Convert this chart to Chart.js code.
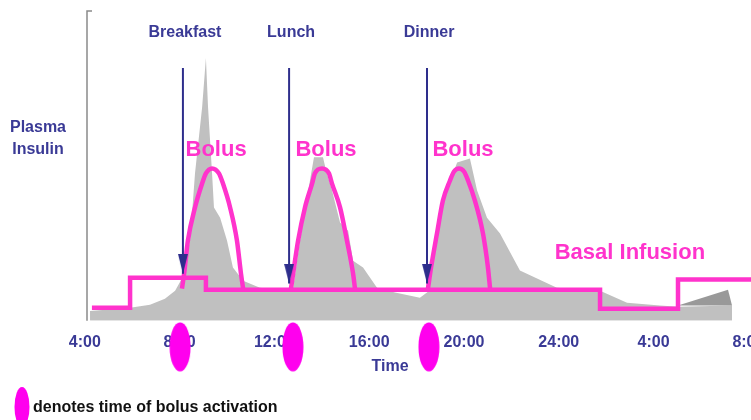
<!DOCTYPE html>
<html>
<head>
<meta charset="utf-8">
<script src="https://cdn.jsdelivr.net/npm/chart.js@4.4.1/dist/chart.umd.min.js"></script>
<style>
  html, body { margin: 0; padding: 0; background: #fff; }
  #wrap { width: 751px; height: 420px; position: relative; }
</style>
</head>
<body>
<div id="wrap"><canvas id="insulinChart"></canvas></div>
<script>
// Time axis: hours from 4:00 (day 1) to 8:00 (day 2)
const tickHours = [4, 8, 12, 16, 20, 24, 28, 32];
const tickLabels = ['4:00', '8:00', '12:00', '16:00', '20:00', '24:00', '4:00', '8:00'];

// Plasma insulin (grey area)
const insulinTimes = [4.22, 5.91, 6.75, 7.38, 7.81, 8.14, 8.44, 8.65, 8.95, 9.11, 9.20, 9.37, 9.45, 9.71, 10.0,
  10.25, 10.68, 11.39, 12.45, 12.79, 13.08, 13.50, 13.67, 14.05, 14.18, 14.43, 14.77, 15.11, 15.32, 15.74,
  16.33, 17.09, 18.14, 18.48, 18.69, 19.11, 19.71, 20.25, 20.55, 20.97, 21.52, 22.36, 23.92, 25.74, 26.88,
  28.27, 29.03, 31.31, 31.31];
const insulinLevels = [3.2, 4.2, 5.2, 7.1, 9.7, 14.2, 25.9, 47.6, 68.9, 84.8, 68.9, 47.6, 36.6, 33.3, 25.9,
  17.2, 12.9, 10.7, 9.7, 10.7, 25.9, 45.3, 52.8, 52.8, 48.5, 42.1, 31.7, 29.1, 19.4, 17.2,
  10.7, 9.1, 7.4, 9.4, 22.7, 38.8, 51.1, 52.4, 42.1, 33.3, 28.2, 16.2, 10.7, 9.7, 5.8,
  4.9, 4.5, 4.9, 0];

// darker wedge at the end of the night
const lateTimes = [29.03, 31.14, 31.31];
const lateLevels = [4.9, 10.0, 4.9];

// Basal infusion (steps)
const basalTimes = [4.30, 5.91, 9.11, 25.74, 29.03, 32.11];
const basalRates = [4.2, 13.9, 10.0, 3.9, 13.3, 13.3];

// Bolus humps
const breakfastBolusTimes = [8.10, 8.19, 8.35, 8.65, 8.95, 9.11, 9.37, 9.66, 9.83, 10.13, 10.42, 10.59, 10.68];
const breakfastBolusLevels = [10.4, 15.2, 25.9, 36.6, 44.3, 47.6, 49.2, 47.6, 44.3, 36.6, 25.9, 15.2, 10.4];
const lunchBolusTimes = [12.70, 12.79, 13.00, 13.29, 13.59, 13.71, 14.01, 14.30, 14.43, 14.77, 15.06, 15.32, 15.40];
const lunchBolusLevels = [10.4, 15.2, 25.9, 36.6, 44.3, 47.6, 49.2, 47.6, 44.3, 36.6, 25.9, 15.2, 10.4];
const dinnerBolusTimes = [18.48, 18.61, 18.86, 19.11, 19.41, 19.58, 19.79, 20.00, 20.17, 20.46, 20.80, 21.01, 21.10];
const dinnerBolusLevels = [10.4, 17.2, 28.2, 38.8, 45.3, 48.2, 49.2, 48.2, 45.3, 38.8, 28.2, 17.2, 10.4];

// Meals (arrows) and bolus activation marks
const mealNames = ['Breakfast', 'Lunch', 'Dinner'];
const mealTimes = [8.14, 12.62, 18.44];
const arrowTop = 81.6;
const arrowTips = [15.2, 12.0, 12.0];
const activationTimes = [8.02, 12.78, 18.52];
const activationLevel = -8.4;

const PINK = '#ff33cc';
const MAGENTA = '#ff00ee';
const INDIGO = '#3a3a96';
const ARROW = '#2e2e8c';
const FONT = "'Liberation Sans', Arial, sans-serif";

Chart.defaults.font.family = FONT;

const zip = (xs, ys) => xs.map((x, i) => ({ x: x, y: ys[i] }));

// point style images
const arrowHead = document.createElement('canvas');
arrowHead.width = 10; arrowHead.height = 40;
(function () {
  const c = arrowHead.getContext('2d');
  c.fillStyle = ARROW;
  c.beginPath(); c.moveTo(0, 0); c.lineTo(10, 0); c.lineTo(5, 20); c.closePath(); c.fill();
})();

const bolusMark = document.createElement('canvas');
bolusMark.width = 22; bolusMark.height = 50;
(function () {
  const c = bolusMark.getContext('2d');
  c.fillStyle = MAGENTA;
  c.beginPath(); c.ellipse(11, 25, 10.5, 24.5, 0, 0, Math.PI * 2); c.fill();
})();

const arrowData = mealTimes.flatMap((t, i) => [{ x: t, y: arrowTop }, { x: t, y: arrowTips[i] }, { x: t, y: null }]);

const overlay = {
  id: 'overlay',
  beforeDatasetsDraw(chart) {
    const ctx = chart.ctx, a = chart.chartArea;
    ctx.save();
    ctx.strokeStyle = '#8a8a8a';
    ctx.lineWidth = 1.5;
    ctx.beginPath();
    ctx.moveTo(a.left + 13, a.top);
    ctx.lineTo(a.left + 8, a.top);
    ctx.lineTo(a.left + 8, a.bottom);
    ctx.stroke();
    ctx.restore();
  },
  afterDraw(chart) {
    const ctx = chart.ctx;
    const xs = chart.scales.x, ys = chart.scales.y;
    ctx.save();
    ctx.textAlign = 'center';
    ctx.textBaseline = 'middle';

    // y axis title
    ctx.fillStyle = INDIGO;
    ctx.font = 'bold 16px ' + FONT;
    ctx.fillText('Plasma', 38, 128);
    ctx.fillText('Insulin', 38, 150);

    // x axis title
    ctx.fillText('Time', 390, 367);

    // meal labels
    mealNames.forEach((m, i) => {
      ctx.fillText(m, xs.getPixelForValue(mealTimes[i]) + 2, ys.getPixelForValue(93));
    });

    // bolus labels
    ctx.fillStyle = PINK;
    ctx.font = 'bold 22px ' + FONT;
    [breakfastBolusTimes, lunchBolusTimes, dinnerBolusTimes].forEach(ts => {
      ctx.fillText('Bolus', xs.getPixelForValue(ts[6]) + 4, ys.getPixelForValue(55));
    });
    ctx.fillText('Basal Infusion', xs.getPixelForValue(27), ys.getPixelForValue(22));

    // legend
    ctx.fillStyle = MAGENTA;
    ctx.beginPath(); ctx.ellipse(22, 407, 7.5, 20, 0, 0, Math.PI * 2); ctx.fill();
    ctx.fillStyle = '#111';
    ctx.font = 'bold 16px ' + FONT;
    ctx.textAlign = 'left';
    ctx.fillText('denotes time of bolus activation', 33, 408);
    ctx.restore();
  }
};

const bolusLine = (times, levels) => ({
  data: zip(times, levels),
  borderColor: PINK,
  borderWidth: 4.5,
  pointRadius: 0,
  fill: false,
  cubicInterpolationMode: 'monotone',
  order: 3
});

new Chart(document.getElementById('insulinChart'), {
  type: 'line',
  data: {
    datasets: [
      {
        type: 'scatter',
        data: activationTimes.map(t => ({ x: t, y: activationLevel })),
        pointStyle: bolusMark,
        pointRadius: 30,
        clip: false,
        order: 0
      },
      {
        data: arrowData,
        borderColor: ARROW,
        borderWidth: 2,
        spanGaps: false,
        pointStyle: c => (c.dataIndex % 3 === 1 ? arrowHead : 'circle'),
        pointRadius: c => (c.dataIndex % 3 === 1 ? 12 : 0),
        fill: false,
        order: 1
      },
      {
        data: zip(basalTimes, basalRates),
        borderColor: PINK,
        borderWidth: 4.5,
        stepped: true,
        pointRadius: 0,
        fill: false,
        order: 2
      },
      bolusLine(breakfastBolusTimes, breakfastBolusLevels),
      bolusLine(lunchBolusTimes, lunchBolusLevels),
      bolusLine(dinnerBolusTimes, dinnerBolusLevels),
      {
        data: zip(lateTimes, lateLevels),
        borderWidth: 0,
        backgroundColor: '#999999',
        pointRadius: 0,
        fill: { value: 4.9 },
        order: 4
      },
      {
        data: zip(insulinTimes, insulinLevels),
        borderWidth: 0,
        backgroundColor: '#c0c0c0',
        pointRadius: 0,
        fill: 'origin',
        order: 5
      }
    ]
  },
  options: {
    responsive: true,
    maintainAspectRatio: false,
    animation: false,
    layout: { autoPadding: false, padding: { left: 79, right: 0, top: 11, bottom: 56 } },
    plugins: {
      legend: { display: false },
      tooltip: { enabled: false }
    },
    scales: {
      x: {
        type: 'linear',
        min: 3.755,
        max: 32.11,
        afterBuildTicks: s => { s.ticks = tickHours.map(v => ({ value: v })); },
        afterFit: s => { s.paddingLeft = 0; s.paddingRight = 0; },
        grid: { display: false, drawTicks: false },
        border: { display: false },
        ticks: {
          callback: (v, i) => tickLabels[i],
          autoSkip: false,
          maxRotation: 0,
          padding: 12,
          color: INDIGO,
          font: { size: 16, weight: 'bold' }
        }
      },
      y: {
        display: false,
        min: 0,
        max: 100
      }
    }
  },
  plugins: [overlay]
});
</script>
</body>
</html>
